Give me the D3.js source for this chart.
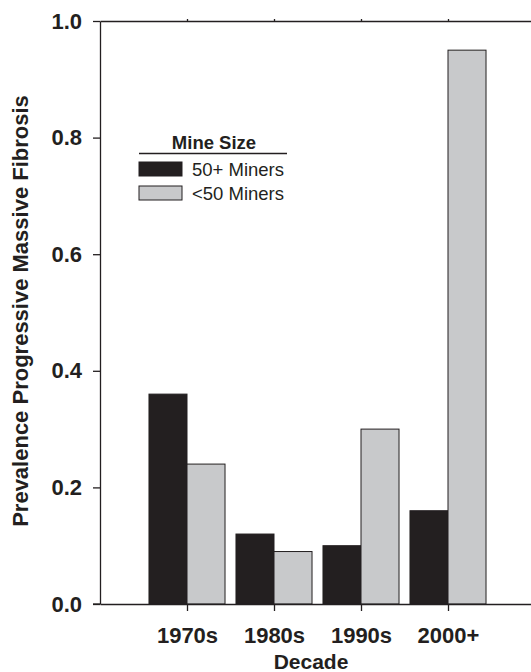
<!DOCTYPE html>
<html>
<head>
<meta charset="utf-8">
<script src="https://cdn.jsdelivr.net/npm/d3@7"></script>
<style>
    body { margin: 0; background: #fff; }
    svg text { font-family: "Liberation Sans", Arial, sans-serif; fill: #231f20; }
</style>
</head>
<body>
<div id="chart"></div>
<script>
// Data
const decades = ["1970s", "1980s", "1990s", "2000+"];
const large = [0.36, 0.12, 0.10, 0.16];   // 50+ Miners
const small = [0.24, 0.09, 0.30, 0.95];   // <50 Miners
const yTicks = [0.0, 0.2, 0.4, 0.6, 0.8, 1.0];
const seriesNames = ["50+ Miners", "<50 Miners"];
const seriesColors = ["#231f20", "#c8c9cb"];

const width = 531;
const height = 672;
const margin = { top: 21, right: -4, bottom: 68, left: 100 };

const svg = d3.select("#chart")
    .append("svg")
    .attr("width", width)
    .attr("height", height);

// x is a linear position scale: decade i sits at i + 1
const x = d3.scaleLinear()
    .domain([0, 5])
    .range([margin.left, width - margin.right]);

const y = d3.scaleLinear()
    .domain([0, 1])
    .range([height - margin.bottom, margin.top]);

const barW = 0.437; // in x units

const rows = decades.map((d, i) => ({ decade: d, pos: i + 1, values: [large[i], small[i]] }));

// bars
const groups = svg.selectAll("g.grp")
    .data(rows)
    .enter()
    .append("g")
    .attr("class", "grp");

groups.selectAll("rect")
    .data(d => d.values.map((v, k) => ({ v: v, k: k, pos: d.pos })))
    .enter()
    .append("rect")
    .attr("x", d => x(d.pos + (d.k === 0 ? -barW : 0)))
    .attr("y", d => y(d.v))
    .attr("width", x(barW) - x(0))
    .attr("height", d => y(0) - y(d.v))
    .attr("fill", d => seriesColors[d.k])
    .attr("stroke", "#231f20")
    .attr("stroke-width", 1);

// axes
const axisLeft = svg.append("g")
    .attr("transform", `translate(${margin.left},0)`)
    .call(d3.axisLeft(y).tickValues(yTicks).tickFormat(d3.format(".1f")).tickSizeOuter(0).tickSizeInner(7).tickPadding(11));

const axisBottom = svg.append("g")
    .attr("transform", `translate(0,${y(0)})`)
    .call(d3.axisBottom(x).tickValues([1, 2, 3, 4]).tickFormat(d => decades[d - 1]).tickSizeOuter(0).tickSizeInner(7).tickPadding(16));

const axisTop = svg.append("g")
    .attr("transform", `translate(0,${y(1)})`)
    .call(d3.axisTop(x).tickValues([1, 2, 3, 4]).tickFormat("").tickSizeOuter(0).tickSizeInner(2));

[axisLeft, axisBottom, axisTop].forEach(a => {
    a.select(".domain").attr("stroke", "#231f20").attr("stroke-width", 1.3);
    a.selectAll(".tick line").attr("stroke", "#231f20").attr("stroke-width", 1.3);
    a.selectAll("text")
        .style("font-size", "22px")
        .style("font-weight", "bold")
        .attr("fill", "#231f20");
});

// bottom axis also reaches left to meet 0.0 tick
svg.append("line")
    .attr("x1", margin.left - 7)
    .attr("x2", margin.left)
    .attr("y1", y(0))
    .attr("y2", y(0))
    .attr("stroke", "#231f20")
    .attr("stroke-width", 1.3);

// axis titles
svg.append("text")
    .attr("x", 311)
    .attr("y", 669)
    .attr("text-anchor", "middle")
    .style("font-size", "21px")
    .style("font-weight", "bold")
    .text("Decade");

svg.append("text")
    .attr("transform", "translate(28,311) rotate(-90)")
    .attr("text-anchor", "middle")
    .style("font-size", "22px")
    .style("font-weight", "bold")
    .text("Prevalence Progressive Massive Fibrosis");

// legend
const legend = svg.append("g").attr("transform", "translate(139,0)");

legend.append("text")
    .attr("x", 75)
    .attr("y", 149)
    .attr("text-anchor", "middle")
    .style("font-size", "18.5px")
    .style("font-weight", "bold")
    .text("Mine Size");

legend.append("line")
    .attr("x1", 0)
    .attr("x2", 148)
    .attr("y1", 153.5)
    .attr("y2", 153.5)
    .attr("stroke", "#231f20")
    .attr("stroke-width", 1.5);

seriesNames.forEach((name, i) => {
    legend.append("rect")
        .attr("x", 0)
        .attr("y", 162 + i * 24)
        .attr("width", 43)
        .attr("height", 14)
        .attr("fill", seriesColors[i])
        .attr("stroke", "#231f20")
        .attr("stroke-width", 1);
    legend.append("text")
        .attr("x", 53)
        .attr("y", 175.5 + i * 24)
        .style("font-size", "18.5px")
        .text(name);
});
</script>
</body>
</html>
